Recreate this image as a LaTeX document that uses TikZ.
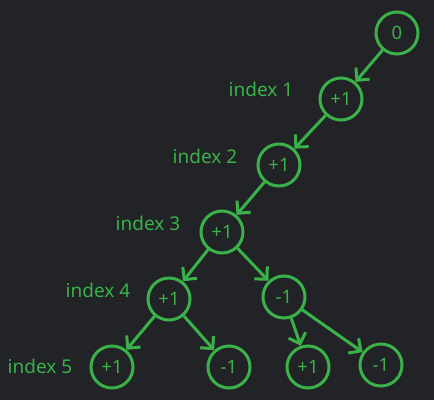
\documentclass[tikz,border=0pt]{standalone}
\usepackage{fontspec}
\setmainfont{Noto Sans}
\usetikzlibrary{arrows.meta}
\definecolor{bg}{HTML}{212327}
\definecolor{gr}{HTML}{3BB14A}
\tikzset{
  nd/.style={circle,draw=gr,line width=3pt,minimum size=42pt,inner sep=0pt,text=gr,font=\fontsize{18.5}{20}\selectfont},
  lbl/.style={text=gr,font=\fontsize{19}{21}\selectfont,inner sep=0pt},
  ar/.style={draw=gr,line width=3pt,-{Straight Barb[length=9pt,width=18pt,line width=3pt]}}
}
\begin{document}
\begin{tikzpicture}[x=1pt,y=-1pt]
\fill[bg] (0,0) rectangle (434,400);
\useasboundingbox (0,0) rectangle (434,400);
\node[nd] (n0) at (397,33) {0};
\node[nd] (n1) at (341,99) {+1};
\node[nd] (n2) at (279,165) {+1};
\node[nd] (n3) at (222,232) {+1};
\node[nd] (n4a) at (169,299) {+1};
\node[nd] (n4b) at (284,297) {-1};
\node[nd] (n5a) at (112,367) {+1};
\node[nd] (n5b) at (229,367) {-1};
\node[nd] (n5c) at (308,367) {+1};
\node[nd] (n5d) at (381,365) {-1};
\node[lbl] (l1) at (261,89) {index 1};
\node[lbl] (l2) at (205,156) {index 2};
\node[lbl] (l3) at (148,223) {index 3};
\node[lbl] (l4) at (98,290) {index 4};
\node[lbl] (l5) at (40,366) {index 5};
\draw[ar] (n0) -- (n1);
\draw[ar] (n1) -- (n2);
\draw[ar] (n2) -- (n3);
\draw[ar] (n3) -- (n4a);
\draw[ar] (n3) -- (n4b);
\draw[ar] (n4a) -- (n5a);
\draw[ar] (n4a) -- (n5b);
\draw[ar] (n4b) -- (n5c);
\draw[ar] (n4b) -- (n5d);
\end{tikzpicture}
\end{document}
